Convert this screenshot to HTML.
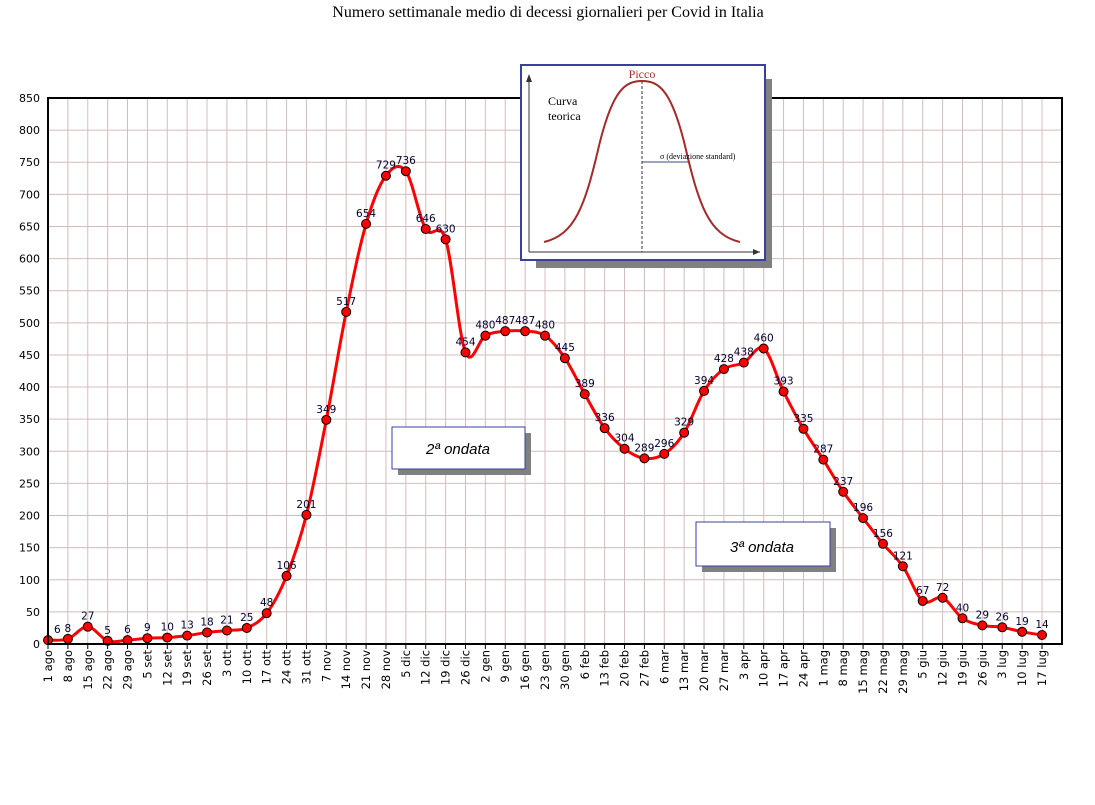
<!DOCTYPE html>
<html><head><meta charset="utf-8"><style>
body{margin:0;background:#fff;}
svg{display:block;font-family:"DejaVu Sans","Liberation Sans",sans-serif;}
</style></head><body>
<svg id="chart" width="1095" height="805" viewBox="0 0 1095 805" xmlns="http://www.w3.org/2000/svg">
<text x="548" y="17" text-anchor="middle" font-family="Liberation Serif, serif" font-size="16">Numero settimanale medio di decessi giornalieri per Covid in Italia</text>
<g id="grid"></g>
<g id="yaxis"></g>
<g id="xaxis"></g>
<path id="line" fill="none" stroke="#ff0000" stroke-width="3"></path>
<g id="points"></g>
<g id="labels"></g>
<rect x="48" y="98" width="1014" height="546" fill="none" stroke="#000" stroke-width="2"/>

<g>
<rect x="536" y="79" width="236" height="189" fill="#808080"/>
<rect x="521" y="65" width="244" height="195" fill="#fff" stroke="#3a3fa0" stroke-width="2"/>
<line x1="529" y1="252" x2="760" y2="252" stroke="#333"/>
<polygon points="760,252 753,249 753,255" fill="#333"/>
<line x1="529" y1="252" x2="529" y2="76" stroke="#333"/>
<polygon points="529,74 526,82 532,82" fill="#333"/>
<line x1="642" y1="81" x2="642" y2="252" stroke="#333" stroke-dasharray="3,2"/>
<line x1="642" y1="162" x2="690" y2="162" stroke="#3a4a8a"/>
<path d="M544,242 C575,235 585,205 598,150 C612,90 625,81 642,81 C659,81 672,90 686,150 C699,205 709,235 740,242" fill="none" stroke="#a52a2a" stroke-width="2"/>
<text x="642" y="78" text-anchor="middle" font-family="Liberation Serif,serif" font-size="12" fill="#a52a2a">Picco</text>
<text x="548" y="105" font-family="Liberation Serif,serif" font-size="12">Curva</text>
<text x="548" y="120" font-family="Liberation Serif,serif" font-size="12">teorica</text>
<text x="660" y="159" font-family="Liberation Serif,serif" font-size="8">σ  (deviazione standard)</text>
</g>

<g>
<rect x="398" y="433" width="133" height="42" fill="#808080"/>
<rect x="392" y="427" width="133" height="42" fill="#fff" stroke="#3a3fa0"/>
<text x="458" y="454" text-anchor="middle" font-style="italic" font-size="15" font-family="Liberation Sans,sans-serif">2ª ondata</text>
</g>
<g>
<rect x="702" y="528" width="134" height="44" fill="#808080"/>
<rect x="696" y="522" width="134" height="44" fill="#fff" stroke="#3a3fa0"/>
<text x="762" y="552" text-anchor="middle" font-style="italic" font-size="15" font-family="Liberation Sans,sans-serif">3ª ondata</text>
</g>
</svg>
<script>
const categories=["1 ago","8 ago","15 ago","22 ago","29 ago","5 set","12 set","19 set","26 set","3 ott","10 ott","17 ott","24 ott","31 ott","7 nov","14 nov","21 nov","28 nov","5 dic","12 dic","19 dic","26 dic","2 gen","9 gen","16 gen","23 gen","30 gen","6 feb","13 feb","20 feb","27 feb","6 mar","13 mar","20 mar","27 mar","3 apr","10 apr","17 apr","24 apr","1 mag","8 mag","15 mag","22 mag","29 mag","5 giu","12 giu","19 giu","26 giu","3 lug","10 lug","17 lug"];
const deaths=[6,8,27,5,6,9,10,13,18,21,25,48,106,201,349,517,654,729,736,646,630,454,480,487,487,480,445,389,336,304,289,296,329,394,428,438,460,393,335,287,237,196,156,121,67,72,40,29,26,19,14];
const yTicks=[0,50,100,150,200,250,300,350,400,450,500,550,600,650,700,750,800,850];
const NS="http://www.w3.org/2000/svg";
const X0=48,STEP=19.88,Y0=644,YT=98,YMAX=850,XR=1062;
const xs=i=>X0+i*STEP;
const ys=v=>Y0-(v/YMAX)*(Y0-YT);
function mk(tag,attrs,parent){const e=document.createElementNS(NS,tag);for(const k in attrs)e.setAttribute(k,attrs[k]);document.getElementById(parent).appendChild(e);return e;}
yTicks.forEach(t=>{
 const g=mk("line",{x1:X0,x2:XR,y1:ys(t),y2:ys(t),stroke:"#d4bcbc","stroke-width":1},"grid");
 
 
 const l=mk("text",{x:40,y:ys(t)+4,"text-anchor":"end","font-size":11},"yaxis");
 l.textContent=t;
 
 
});
categories.forEach((c,i)=>{
 const g=mk("line",{x1:xs(i),x2:xs(i),y1:YT,y2:Y0,stroke:"#d4bcbc","stroke-width":1},"grid");
 
 
 const tk=mk("line",{x1:xs(i),x2:xs(i),y1:Y0,y2:Y0+5,stroke:"#000"},"xaxis");
 
 
 const t=mk("text",{x:0,y:0,"text-anchor":"end","font-size":11.5,transform:`translate(${xs(i)+4},${Y0+6}) rotate(-90)`},"xaxis");
 t.textContent=c;
 
 
});
const pts=deaths.map((v,i)=>[xs(i),ys(v)]);
let d=`M${pts[0][0]},${pts[0][1]}`;
for(let i=0;i<pts.length-1;i++){
 const p0=pts[Math.max(0,i-1)],p1=pts[i],p2=pts[i+1],p3=pts[Math.min(pts.length-1,i+2)];
 const k=0.5/3;
 d+=` C${p1[0]+(p2[0]-p0[0])*k},${p1[1]+(p2[1]-p0[1])*k} ${p2[0]-(p3[0]-p1[0])*k},${p2[1]-(p3[1]-p1[1])*k} ${p2[0]},${p2[1]}`;
}
document.getElementById("line").setAttribute("d",d);
deaths.forEach((v,i)=>{
 const c=mk("circle",{cx:xs(i),cy:ys(v),r:4.5,fill:"#ff0000",stroke:"#000","stroke-width":1},"points");
 
 
 const t=mk("text",{x:xs(i)+(i===0?6:0),y:ys(v)-7,"text-anchor":i===0?"start":"middle","font-size":10.5,fill:"#000030"},"labels");
 t.textContent=v;
 
 
});
</script>
</body></html>
